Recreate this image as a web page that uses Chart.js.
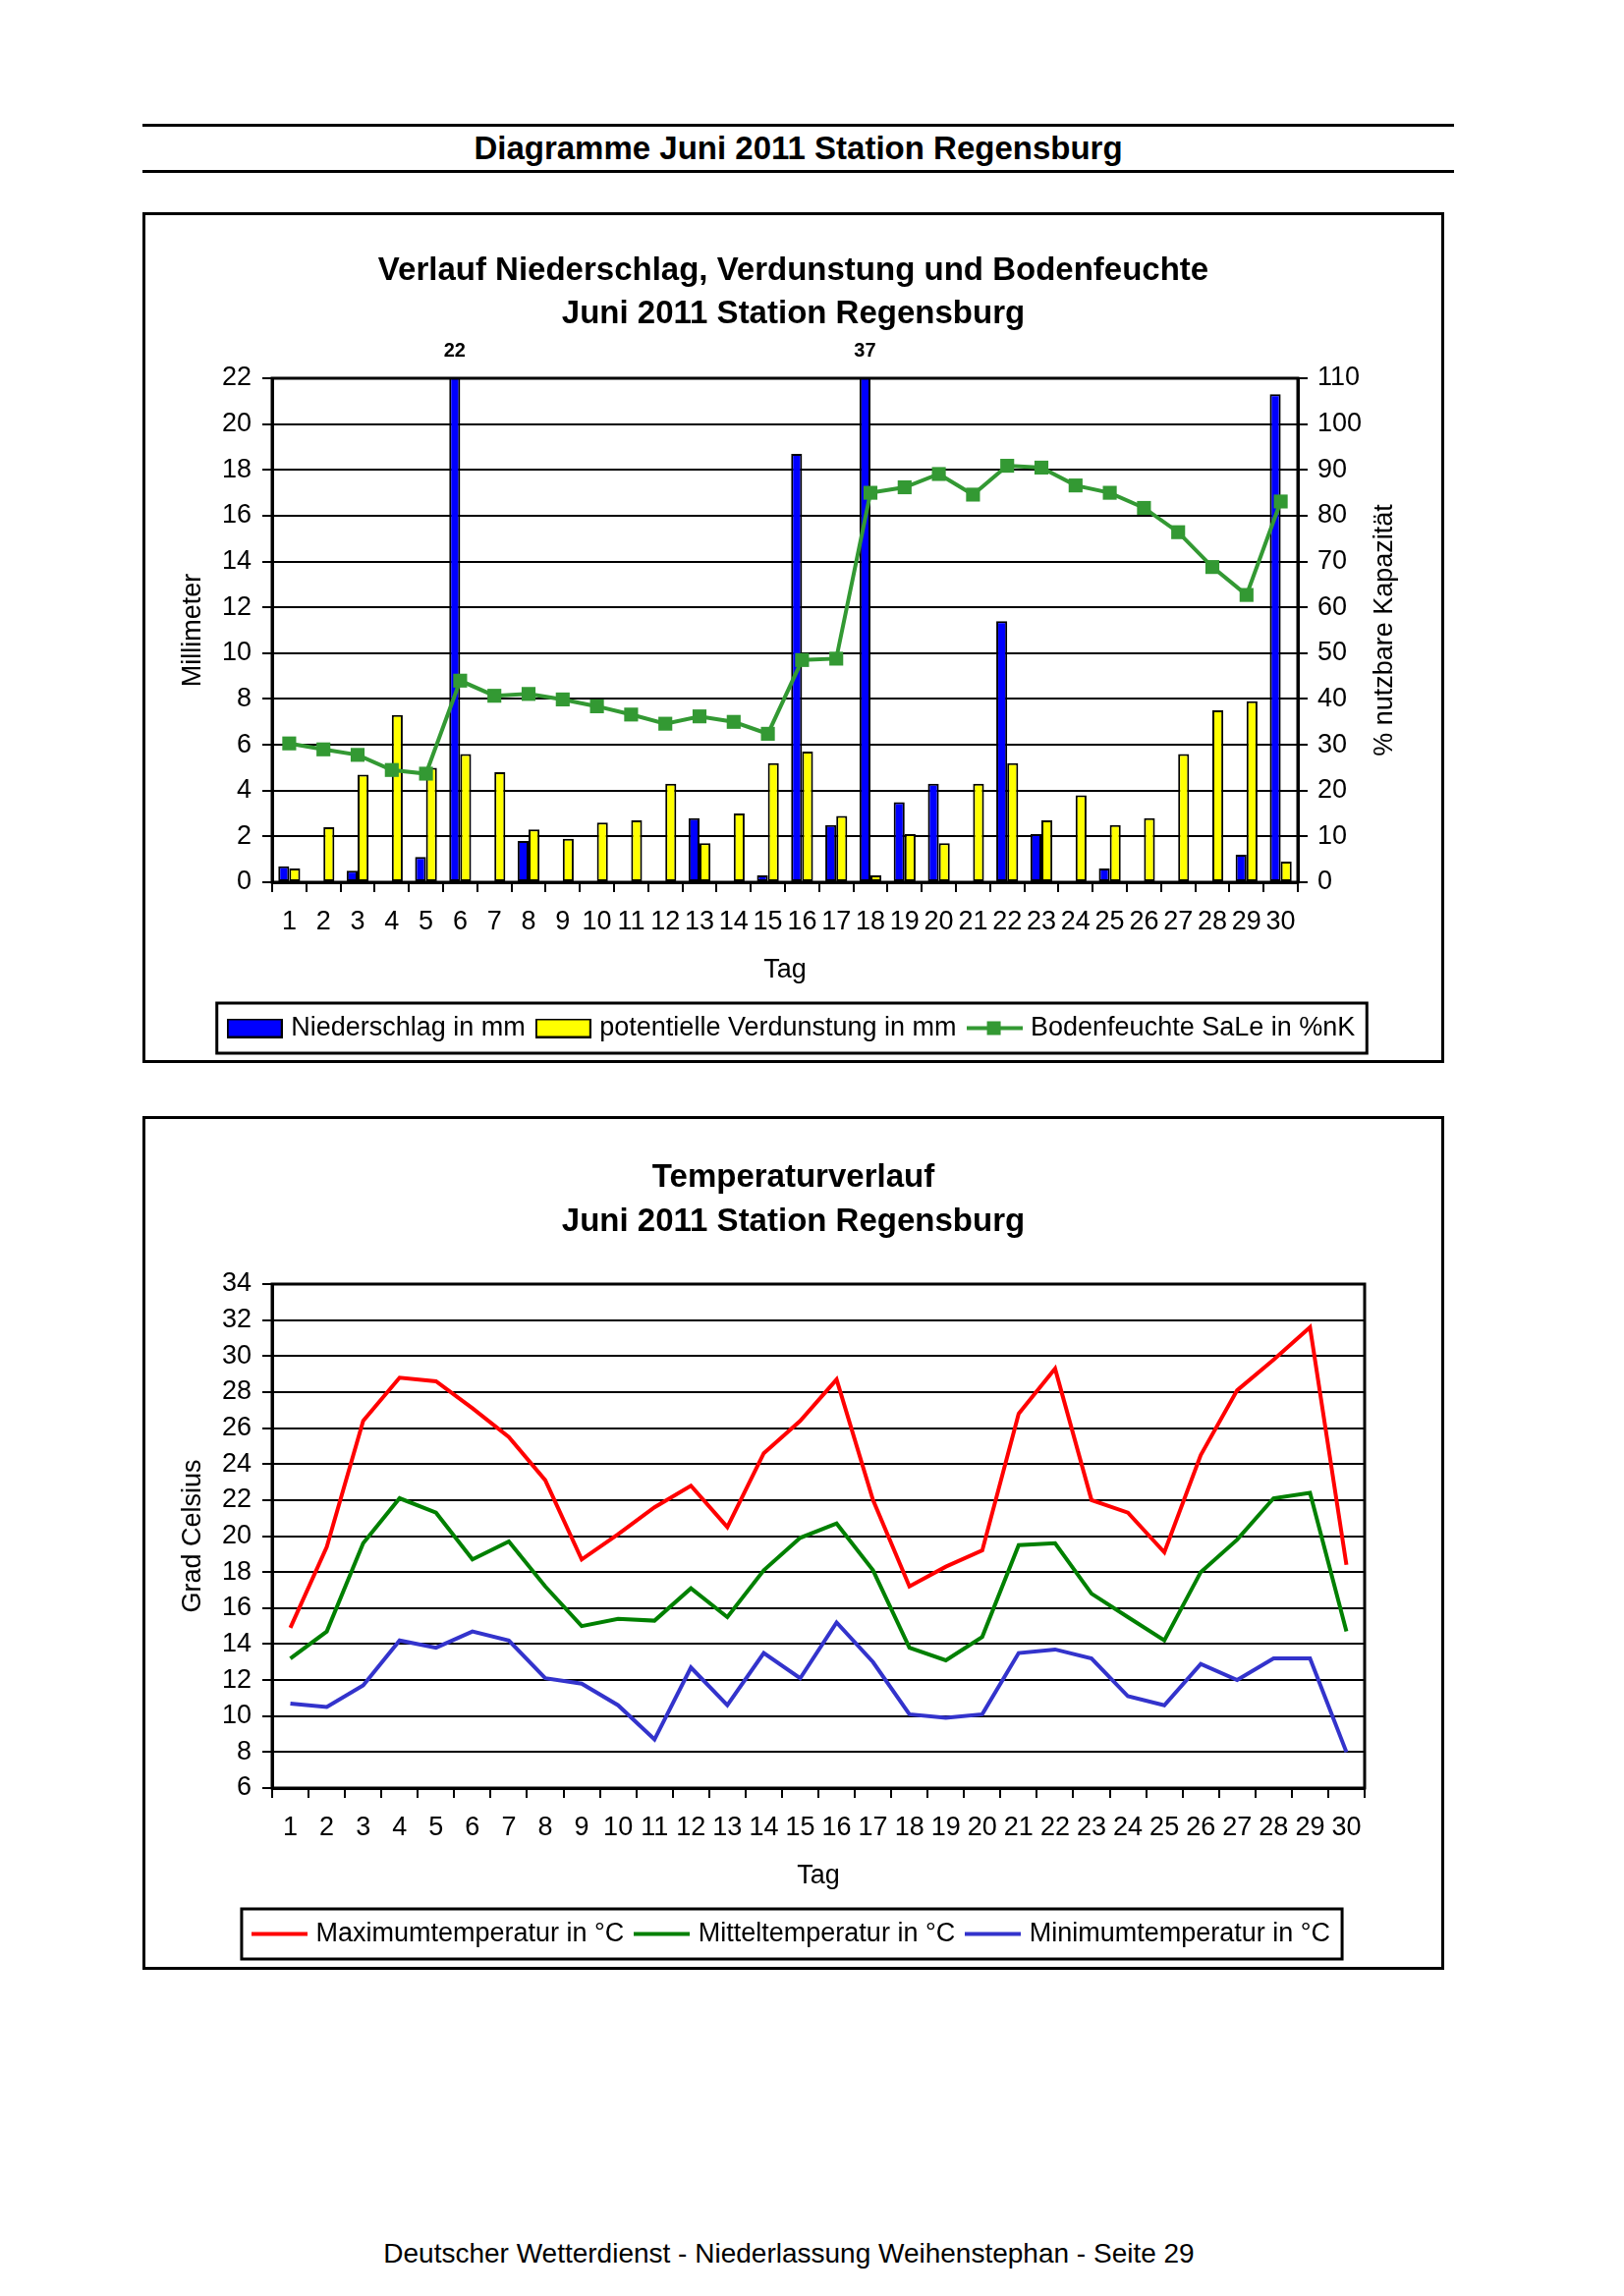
<!DOCTYPE html>
<html lang="de">
<head>
<meta charset="utf-8">
<title>Diagramme Juni 2011 Station Regensburg</title>
<script src="https://cdn.jsdelivr.net/npm/chart.js@4.4.1/dist/chart.umd.min.js"></script>
<style>
  html, body { margin: 0; padding: 0; background: #fff; }
  body { width: 1653px; height: 2337px; position: relative; font-family: 'Liberation Sans', Arial, sans-serif; color: #000; }
  .linie { position: absolute; left: 145px; width: 1335px; height: 3px; background: #000; }
  #kopf { position: absolute; left: 145px; width: 1335px; top: 132px; text-align: center; font-weight: bold; font-size: 33px; line-height: 38px; }
  .kasten { position: absolute; left: 145px; width: 1319px; border: 3px solid #000; }
  .kasten canvas { display: block; }
  #fuss { position: absolute; left: 0; width: 1606px; top: 2277px; text-align: center; font-size: 28px; line-height: 34px; }
</style>
</head>
<body>
<div class="linie" style="top:126px"></div>
<div id="kopf">Diagramme Juni 2011 Station Regensburg</div>
<div class="linie" style="top:173px"></div>

<div class="kasten" style="top:216px; height:860px"><canvas id="chart-wasser"></canvas></div>
<div class="kasten" style="top:1136px; height:863px"><canvas id="chart-temperatur"></canvas></div>

<div id="fuss">Deutscher Wetterdienst - Niederlassung Weihenstephan - Seite 29</div>

<script>
// Daten Juni 2011, Station Regensburg
const tage = ['1','2','3','4','5','6','7','8','9','10','11','12','13','14','15','16','17','18','19','20','21','22','23','24','25','26','27','28','29','30'];

// Niederschlag in mm (Tag 6 und 18 über der Achse)
const niederschlag = [0.7, null, 0.5, null, 1.1, 22.4, null, 1.8, null, null, null, null, 2.8, null, 0.3, 18.7, 2.5, 37, 3.5, 4.3, null, 11.4, 2.1, null, 0.6, null, null, null, 1.2, 21.3];
// potentielle Verdunstung in mm
const verdunstung = [0.6, 2.4, 4.7, 7.3, 5.0, 5.6, 4.8, 2.3, 1.9, 2.6, 2.7, 4.3, 1.7, 3.0, 5.2, 5.7, 2.9, 0.3, 2.1, 1.7, 4.3, 5.2, 2.7, 3.8, 2.5, 2.8, 5.6, 7.5, 7.9, 0.9];
// Bodenfeuchte SaLe in %nK
const bodenfeuchte = [30.3, 29.0, 27.8, 24.5, 23.7, 44.0, 40.7, 41.1, 39.9, 38.4, 36.6, 34.6, 36.2, 35.0, 32.4, 48.5, 48.8, 85.0, 86.2, 89.1, 84.6, 90.9, 90.5, 86.6, 85.0, 81.7, 76.4, 68.8, 62.7, 83.1];

// Temperaturen in °C
const tMax = [14.9, 19.4, 26.4, 28.8, 28.6, 27.1, 25.5, 23.1, 18.7, 20.1, 21.6, 22.8, 20.5, 24.6, 26.4, 28.7, 22.0, 17.2, 18.3, 19.2, 26.8, 29.3, 22.0, 21.3, 19.1, 24.5, 28.1, 29.8, 31.6, 18.4];
const tMittel = [13.2, 14.7, 19.6, 22.1, 21.3, 18.7, 19.7, 17.2, 15.0, 15.4, 15.3, 17.1, 15.5, 18.1, 19.9, 20.7, 18.1, 13.8, 13.1, 14.4, 19.5, 19.6, 16.8, 15.5, 14.2, 18.0, 19.8, 22.1, 22.4, 14.7];
const tMin = [10.7, 10.5, 11.7, 14.2, 13.8, 14.7, 14.2, 12.1, 11.8, 10.6, 8.7, 12.7, 10.6, 13.5, 12.1, 15.2, 13.0, 10.1, 9.9, 10.1, 13.5, 13.7, 13.2, 11.1, 10.6, 12.9, 12.0, 13.2, 13.2, 8.0];

const schrift = "'Liberation Sans', Arial, sans-serif";
Chart.defaults.font.family = schrift;
Chart.defaults.color = '#000';

// Legendensymbole wie im Original (Kästchen bzw. Linie)
function symbolKasten(farbe) {
  const c = document.createElement('canvas');
  c.width = 57; c.height = 20;
  const g = c.getContext('2d');
  g.fillStyle = farbe;
  g.fillRect(1, 1, 55, 18);
  g.lineWidth = 2;
  g.strokeStyle = '#000';
  g.strokeRect(1, 1, 55, 18);
  return c;
}
function symbolLinie(farbe, breite, marker) {
  const c = document.createElement('canvas');
  c.width = 57; c.height = 20;
  const g = c.getContext('2d');
  g.strokeStyle = farbe;
  g.lineWidth = breite;
  g.beginPath(); g.moveTo(0, 10); g.lineTo(57, 10); g.stroke();
  if (marker) { g.fillStyle = farbe; g.fillRect(21, 3, 14, 14); }
  return c;
}

// Symbol ist 57 px breit, Platz dafür nur 47 px -> kleinerer Abstand zum Text
const SYMBOL_PLATZ = 47;

function legende(symbole) {
  return {
    position: 'bottom',
    labels: {
      color: '#000',
      font: { size: 27 },
      usePointStyle: true,
      pointStyleWidth: SYMBOL_PLATZ,
      boxHeight: 20,
      padding: 15,
      generateLabels(chart) {
        const items = Chart.defaults.plugins.legend.labels.generateLabels(chart);
        items.sort((a, b) => a.datasetIndex - b.datasetIndex);
        items.forEach(it => { it.pointStyle = symbole[it.datasetIndex]; });
        return items;
      }
    }
  };
}

// Rahmen um Zeichenfläche und Legende
const rahmen = {
  id: 'rahmen',
  afterDraw(chart) {
    const { ctx, chartArea: a, legend } = chart;
    ctx.save();
    ctx.strokeStyle = '#000';
    ctx.lineWidth = 3;
    ctx.strokeRect(a.left, a.top, a.right - a.left, a.bottom - a.top);
    const hb = legend.legendHitBoxes;
    if (hb && hb.length) {
      const l = Math.min(...hb.map(h => h.left)) - 15;
      const r = Math.max(...hb.map(h => h.left + h.width)) + 12;
      const t = Math.min(...hb.map(h => h.top)) - 12;
      const b = Math.max(...hb.map(h => h.top + h.height)) + 12;
      ctx.strokeRect(l, t, r - l, b - t);
    }
    ctx.restore();
  }
};

// Werte über dem Achsenende als Zahl anschreiben
const ueberlauf = {
  id: 'ueberlauf',
  afterDatasetsDraw(chart) {
    const meta = chart.getDatasetMeta(0);
    const yMax = chart.scales.y.max;
    const { ctx, chartArea } = chart;
    ctx.save();
    ctx.font = 'bold 20px ' + schrift;
    ctx.fillStyle = '#000';
    ctx.textAlign = 'center';
    ctx.textBaseline = 'middle';
    niederschlag.forEach((v, i) => {
      if (v != null && v > yMax) ctx.fillText(String(Math.round(v)), meta.data[i].x, chartArea.top - 28);
    });
    ctx.restore();
  }
};

// Titel der rechten Achse von unten nach oben lesbar
const rechterTitel = {
  id: 'rechterTitel',
  afterDraw(chart) {
    const s = chart.scales.y1;
    if (!s) return;
    const { ctx, chartArea } = chart;
    ctx.save();
    ctx.translate(s.right - 57, (chartArea.top + chartArea.bottom) / 2);
    ctx.rotate(-Math.PI / 2);
    ctx.font = '27px ' + schrift;
    ctx.fillStyle = '#000';
    ctx.textAlign = 'center';
    ctx.textBaseline = 'middle';
    ctx.fillText('% nutzbare Kapazität', 0, 0);
    ctx.restore();
  }
};

const achseX = {
  offset: true,
  grid: { offset: true, drawOnChartArea: false, drawTicks: true, tickLength: 10, color: '#000', lineWidth: 2 },
  border: { display: true, color: '#000', width: 3 },
  ticks: { color: '#000', font: { size: 27 }, autoSkip: false, maxRotation: 0, minRotation: 0, padding: 14 },
  title: { display: true, text: 'Tag', color: '#000', font: { size: 27 }, padding: { top: 0, bottom: 14 } },
  afterFit(s) { s.height = 120; }
};

new Chart(document.getElementById('chart-wasser'), {
  type: 'bar',
  data: {
    labels: tage,
    datasets: [{
      label: 'Niederschlag in mm',
      data: niederschlag,
      backgroundColor: '#0000FF',
      borderColor: '#000',
      borderWidth: 2,
      borderSkipped: false,
      categoryPercentage: 0.64,
      barPercentage: 1.0,
      yAxisID: 'y',
      order: 1
    }, {
      label: 'potentielle Verdunstung in mm',
      data: verdunstung,
      backgroundColor: '#FFFF00',
      borderColor: '#000',
      borderWidth: 2,
      borderSkipped: false,
      categoryPercentage: 0.64,
      barPercentage: 1.0,
      yAxisID: 'y',
      order: 1
    }, {
      type: 'line',
      label: 'Bodenfeuchte SaLe in %nK',
      data: bodenfeuchte,
      borderColor: '#339933',
      backgroundColor: '#339933',
      borderWidth: 4,
      pointStyle: 'rect',
      pointRadius: 10,
      pointBorderWidth: 0,
      tension: 0,
      yAxisID: 'y1',
      order: 0
    }]
  },
  options: {
    responsive: true,
    maintainAspectRatio: false,
    animation: false,
    layout: { padding: { top: 0, bottom: 9, left: 0, right: 0 } },
    plugins: {
      title: {
        display: true,
        text: ['Verlauf Niederschlag, Verdunstung und Bodenfeuchte', 'Juni 2011 Station Regensburg'],
        color: '#000',
        font: { size: 33, weight: 'bold', lineHeight: 44 / 33 },
        padding: { top: 35, bottom: 43 }
      },
      legend: legende([symbolKasten('#0000FF'), symbolKasten('#FFFF00'), symbolLinie('#339933', 4, true)]),
      tooltip: { enabled: false }
    },
    scales: {
      x: achseX,
      y: {
        position: 'left',
        min: 0, max: 22,
        ticks: { stepSize: 2, color: '#000', font: { size: 27 }, padding: 11 },
        grid: { color: '#000', lineWidth: 2, tickLength: 10 },
        border: { color: '#000', width: 3 },
        title: { display: true, text: 'Millimeter', color: '#000', font: { size: 27 }, padding: { top: 32 } },
        afterFit(s) { s.width = 129; }
      },
      y1: {
        position: 'right',
        min: 0, max: 110,
        ticks: { stepSize: 10, color: '#000', font: { size: 27 }, padding: 10 },
        grid: { drawOnChartArea: false, color: '#000', lineWidth: 2, tickLength: 10 },
        border: { color: '#000', width: 3 },
        afterFit(s) { s.width = 146; }
      }
    }
  },
  plugins: [rahmen, ueberlauf, rechterTitel]
});

new Chart(document.getElementById('chart-temperatur'), {
  type: 'line',
  data: {
    labels: tage,
    datasets: [{
      label: 'Maximumtemperatur in °C',
      data: tMax,
      borderColor: '#FF0000',
      backgroundColor: '#FF0000',
      borderWidth: 4,
      pointRadius: 0,
      tension: 0
    }, {
      label: 'Mitteltemperatur in °C',
      data: tMittel,
      borderColor: '#008000',
      backgroundColor: '#008000',
      borderWidth: 4,
      pointRadius: 0,
      tension: 0
    }, {
      label: 'Minimumtemperatur in °C',
      data: tMin,
      borderColor: '#3333CC',
      backgroundColor: '#3333CC',
      borderWidth: 4,
      pointRadius: 0,
      tension: 0
    }]
  },
  options: {
    responsive: true,
    maintainAspectRatio: false,
    animation: false,
    layout: { padding: { top: 0, bottom: 10, left: 0, right: 0 } },
    plugins: {
      title: {
        display: true,
        text: ['Temperaturverlauf', 'Juni 2011 Station Regensburg'],
        color: '#000',
        font: { size: 33, weight: 'bold', lineHeight: 45 / 33 },
        padding: { top: 37, bottom: 41 }
      },
      legend: legende([symbolLinie('#FF0000', 4, false), symbolLinie('#008000', 4, false), symbolLinie('#3333CC', 4, false)]),
      tooltip: { enabled: false }
    },
    scales: {
      x: achseX,
      y: {
        position: 'left',
        min: 6, max: 34,
        ticks: { stepSize: 2, color: '#000', font: { size: 27 }, padding: 11 },
        grid: { color: '#000', lineWidth: 2, tickLength: 10 },
        border: { color: '#000', width: 3 },
        title: { display: true, text: 'Grad Celsius', color: '#000', font: { size: 27 }, padding: { top: 32 } },
        afterFit(s) { s.width = 129; }
      },
      rechts: {
        position: 'right',
        display: true,
        ticks: { display: false },
        grid: { display: false },
        border: { display: false },
        afterFit(s) { s.width = 78; }
      }
    }
  },
  plugins: [rahmen]
});
</script>
</body>
</html>
